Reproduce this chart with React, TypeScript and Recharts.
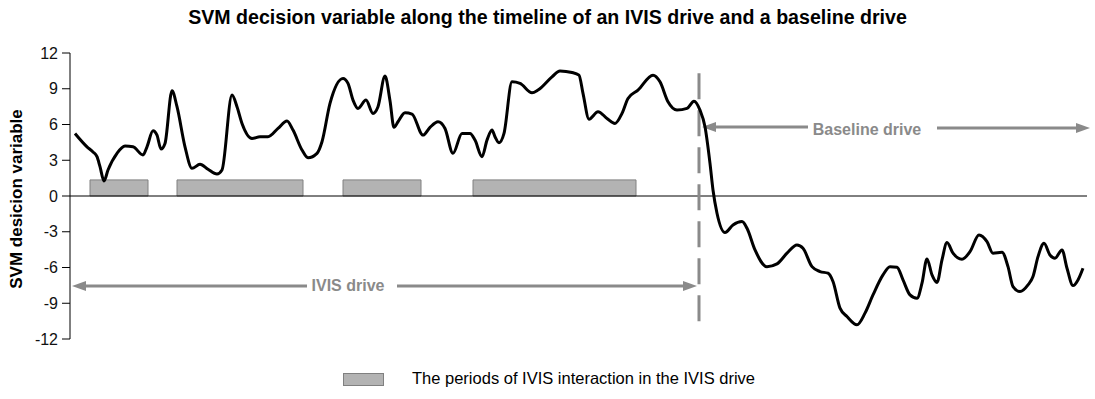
import React from 'react';
import {
  ComposedChart,
  Line,
  XAxis,
  YAxis,
  ReferenceLine,
  ReferenceArea,
  ReferenceDot,
} from 'recharts';

// time along the drives (sample units) and the SVM decision variable
const times = [
  5, 17, 23, 27, 30, 34, 38, 47, 55, 63, 73, 77, 83, 87, 91, 95, 102, 107, 115, 122,
  130, 138, 147, 152, 162, 167, 172, 182, 190, 198, 208, 217, 223, 232, 238, 247, 252, 260, 273, 278,
  283, 288, 296, 303, 308, 315, 320, 324, 328, 335, 342, 353, 360, 368, 375, 383, 392, 400, 405, 412,
  417, 422, 425, 429, 434, 442, 450, 462, 468, 482, 490, 502, 509, 513, 519, 528, 537, 545, 552, 558,
  568, 583, 590, 598, 607, 617, 624, 630, 635, 640, 643, 647, 655, 663, 672, 677, 685, 697, 707, 717,
  727, 733, 742, 750, 758, 763, 770, 777, 787, 795, 803, 813, 820, 827, 833, 840, 847, 852, 857, 862,
  867, 872, 877, 883, 892, 900, 909, 917, 923, 932, 938, 943, 950, 958, 963, 968, 974, 980, 985, 992,
  997, 1003, 1008, 1013,
];
const svmValues = [
  5.25, 4.13, 3.7, 3.3, 2.46, 1.26, 2.18, 3.58, 4.19, 4.13, 3.44, 4.13, 5.47, 5.1, 3.94, 4.41, 8.83, 7.49, 4.13, 2.32,
  2.66, 2.24, 1.84, 2.18, 8.47, 7.49, 6.09, 4.83, 4.97, 4.97, 5.67, 6.29, 5.53, 3.86, 3.21, 3.58, 4.55, 7.77, 9.86, 9.45,
  8.05, 7.35, 8.05, 6.93, 7.49, 10.06, 8.0, 5.76, 6.23, 6.98, 6.87, 5.11, 5.76, 6.23, 5.67, 3.58, 5.25, 5.25, 4.69, 3.3,
  4.69, 5.53, 4.97, 4.47, 5.25, 9.58, 9.45, 8.66, 8.89, 10.0, 10.5, 10.37, 10.14, 8.61, 6.45, 7.07, 6.51, 6.09, 6.93, 8.19,
  8.89, 10.14, 9.58, 7.91, 7.21, 7.35, 7.96, 7.21, 5.81, 2.74, 0.5, -1.45, -3.07, -2.43, -2.15, -2.71, -4.53, -5.93, -5.7, -4.8,
  -4.11, -4.38, -5.93, -6.34, -6.48, -7.18, -9.41, -10.11, -10.81, -9.83, -8.3, -6.62, -5.93, -5.98, -7.04, -8.3, -8.58, -7.32, -5.28, -6.62,
  -7.26, -5.36, -3.91, -4.8, -5.31, -4.67, -3.27, -3.83, -4.8, -4.72, -5.93, -7.6, -8.02, -7.46, -6.76, -5.09, -3.97, -4.95, -5.22, -4.53,
  -6.06, -7.52, -7.04, -6.06,
];

// periods of IVIS interaction [start, end]
const interactionStarts = [20, 107, 273, 403];
const interactionEnds = [78, 233, 351, 566];
const periodBarHeight = 1.35;

const yTicks = [-12, -9, -6, -3, 0, 3, 6, 9, 12];
const driveSwitch = 629;
const timeEnd = 1017;

const data = times.map((t, i) => ({ t, svm: svmValues[i] }));

const GREY = '#8a8a8a';
const FONT = '"Liberation Sans", Arial, sans-serif';

const arrowShape = (headStart: boolean, headEnd: boolean) => (props: any) => {
  const { x1, y1, x2, y2 } = props;
  const len = 14;
  const half = 5;
  return (
    <g>
      <line
        x1={headStart ? x1 + len - 2 : x1}
        y1={y1}
        x2={headEnd ? x2 - len + 2 : x2}
        y2={y2}
        stroke={GREY}
        strokeWidth={3}
      />
      {headStart && (
        <polygon points={`${x1},${y1} ${x1 + len},${y1 - half} ${x1 + len},${y1 + half}`} fill={GREY} />
      )}
      {headEnd && (
        <polygon points={`${x2},${y2} ${x2 - len},${y2 - half} ${x2 - len},${y2 + half}`} fill={GREY} />
      )}
    </g>
  );
};

const driveLabel = (value: string) => ({
  value,
  position: 'center' as const,
  fill: GREY,
  fontSize: 16,
  fontWeight: 'bold',
  fontFamily: FONT,
});

export default function App() {
  return (
    <div
      style={{
        position: 'absolute',
        left: 0,
        top: 0,
        width: 1095,
        height: 399,
        background: '#fff',
        fontFamily: FONT,
      }}
    >
      <div
        style={{
          position: 'absolute',
          top: 6,
          left: 0,
          width: 1095,
          textAlign: 'center',
          fontSize: 19.6,
          lineHeight: '22px',
          fontWeight: 'bold',
          color: '#000',
        }}
      >
        SVM decision variable along the timeline of an IVIS drive and a baseline drive
      </div>
      <div
        style={{
          position: 'absolute',
          left: 17,
          top: 199,
          transform: 'translate(-50%, -50%) rotate(-90deg)',
          whiteSpace: 'nowrap',
          fontSize: 17,
          fontWeight: 'bold',
        }}
      >
        SVM desicion variable
      </div>
      <ComposedChart
        width={1095}
        height={399}
        data={data}
        margin={{ top: 53, right: 8, bottom: 60, left: 30 }}
      >
        <XAxis dataKey="t" type="number" domain={[0, timeEnd]} hide />
        <YAxis
          type="number"
          domain={[-12, 12]}
          ticks={yTicks}
          width={40}
          axisLine={{ stroke: '#000' }}
          tickLine={{ stroke: '#000' }}
          tickSize={8}
          tickMargin={4}
          tick={{ fill: '#111', fontSize: 16, fontFamily: FONT }}
          interval={0}
        />
        {interactionStarts.map((s, i) => (
          <ReferenceArea
            key={i}
            x1={s}
            x2={interactionEnds[i]}
            y1={0}
            y2={periodBarHeight}
            fill="#b3b3b3"
            fillOpacity={1}
            stroke="#808080"
            strokeWidth={1}
          />
        ))}
        <ReferenceLine y={0} stroke="#000" strokeWidth={1} />
        <ReferenceLine
          segment={[
            { x: driveSwitch, y: 10.3 },
            { x: driveSwitch, y: -11.2 },
          ]}
          stroke={GREY}
          strokeWidth={3}
          strokeDasharray="26 11"
        />
        <ReferenceLine
          segment={[
            { x: 2, y: -7.55 },
            { x: 237, y: -7.55 },
          ]}
          shape={arrowShape(true, false)}
        />
        <ReferenceLine
          segment={[
            { x: 327, y: -7.55 },
            { x: 627, y: -7.55 },
          ]}
          shape={arrowShape(false, true)}
        />
        <ReferenceLine
          segment={[
            { x: 632, y: 5.8 },
            { x: 738, y: 5.8 },
          ]}
          shape={arrowShape(true, false)}
        />
        <ReferenceLine
          ifOverflow="visible"
          segment={[
            { x: 867, y: 5.7 },
            { x: 1020, y: 5.7 },
          ]}
          shape={arrowShape(false, true)}
        />
        <ReferenceDot x={278} y={-7.5} r={1} fill="none" stroke="none" label={driveLabel('IVIS drive')} />
        <ReferenceDot x={797} y={5.6} r={1} fill="none" stroke="none" label={driveLabel('Baseline drive')} />
        <Line
          type="monotone"
          dataKey="svm"
          stroke="#000"
          strokeWidth={3}
          dot={false}
          isAnimationActive={false}
        />
      </ComposedChart>
      <div
        style={{
          position: 'absolute',
          left: 343,
          top: 373,
          width: 39,
          height: 11,
          background: '#b3b3b3',
          border: '1px solid #808080',
        }}
      />
      <div
        style={{
          position: 'absolute',
          left: 412,
          top: 369,
          fontSize: 16.5,
          lineHeight: '19px',
          color: '#000',
          whiteSpace: 'nowrap',
        }}
      >
        The periods of IVIS interaction in the IVIS drive
      </div>
    </div>
  );
}
